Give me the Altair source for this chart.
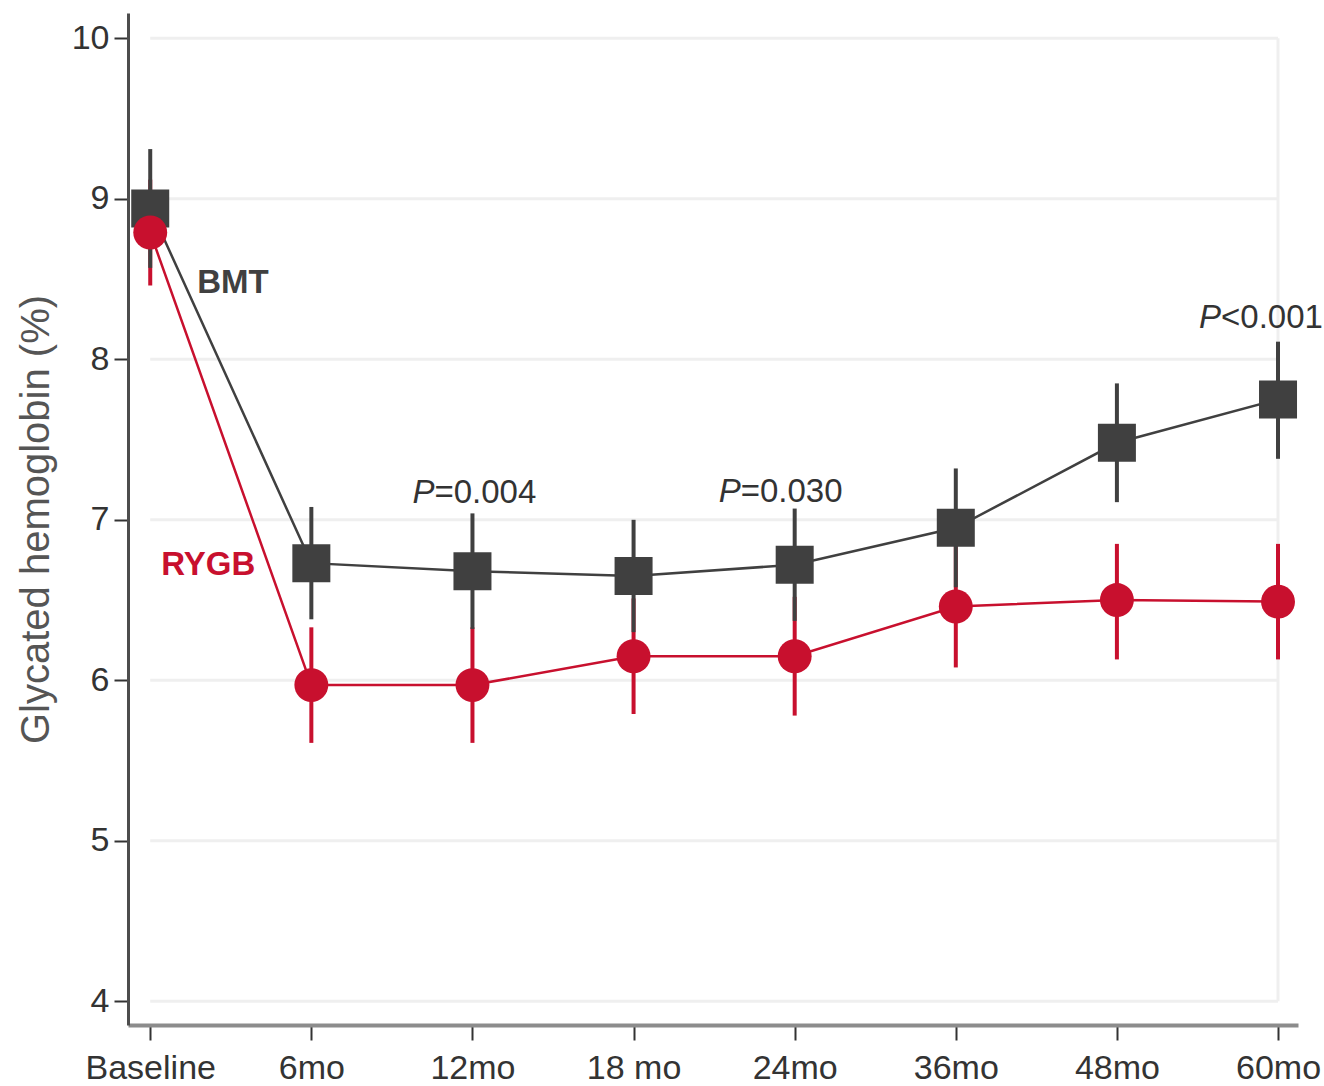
import altair as alt
import pandas as pd

# ---- data ----
timepoints = ["Baseline", "6mo", "12mo", "18 mo", "24mo", "36mo", "48mo", "60mo"]
bmt_mean = [8.94, 6.73, 6.68, 6.65, 6.72, 6.95, 7.48, 7.75]
bmt_upper = [9.31, 7.08, 7.04, 7.00, 7.07, 7.32, 7.85, 8.11]
bmt_lower = [8.57, 6.38, 6.32, 6.30, 6.37, 6.58, 7.11, 7.38]
rygb_mean = [8.79, 5.97, 5.97, 6.15, 6.15, 6.46, 6.50, 6.49]
rygb_upper = [9.12, 6.33, 6.33, 6.51, 6.52, 6.84, 6.85, 6.85]
rygb_lower = [8.46, 5.61, 5.61, 5.79, 5.78, 6.08, 6.13, 6.13]
y_ticks = [4, 5, 6, 7, 8, 9, 10]

ann_index = [2, 4, 7]
ann_y = [7.105, 7.11, 8.196]
ann_p = ["P", "P", "P"]
ann_rest = ["=0.004", "=0.030", "<0.001"]
ann_dx = [-38, -54, -57]

series_names = ["BMT", "RYGB"]
series_label_y = [8.414, 6.656]
series_label_dx = [47, 11]

GRAY = "#404040"
RED = "#c8102e"
FONT = "Liberation Sans, Arial, Helvetica, sans-serif"

n = len(timepoints)
idx = list(range(n))

df = pd.DataFrame({
    "i": idx * 2,
    "series": ["BMT"] * n + ["RYGB"] * n,
    "mean": bmt_mean + rygb_mean,
    "lo": bmt_lower + rygb_lower,
    "hi": bmt_upper + rygb_upper,
})
bmt = df[df.series == "BMT"]
rygb = df[df.series == "RYGB"]

xs = alt.Scale(domain=[-0.138, n - 1 + 0.124], nice=False, zero=False)
ys = alt.Scale(domain=[3.852, 10.158], nice=False, zero=False)

label_js = "[" + ",".join("'" + t + "'" for t in timepoints) + "][datum.value]"

xaxis = alt.Axis(values=idx, labelExpr=label_js, title=None, grid=False,
                 tickSize=15, tickWidth=2, tickColor="#333333",
                 domainColor="#8c8c8c", domainWidth=4,
                 labelFont=FONT, labelFontSize=34, labelColor="#333333",
                 labelPadding=38, labelBaseline="alphabetic",
                 labelFlush=False, labelOverlap=False)
yaxis = alt.Axis(values=y_ticks, title="Glycated hemoglobin (%)", grid=False,
                 tickSize=14, tickWidth=2, tickColor="#333333",
                 domainColor="#4d4d4d", domainWidth=3,
                 labelFont=FONT, labelFontSize=34, labelColor="#333333",
                 labelPadding=5, labelOverlap=False,
                 titleFont=FONT, titleFontSize=40, titleFontWeight="normal",
                 titleColor="#555555", titleAngle=270, titleX=-80, titleY=506,
                 titleAlign="center", titleBaseline="alphabetic")


def X(f):
    return alt.X(f, type="quantitative", scale=xs, axis=xaxis)


def Y(f):
    return alt.Y(f, type="quantitative", scale=ys, axis=yaxis)


grid_df = pd.DataFrame({"y": y_ticks, "x0": [0] * len(y_ticks), "x1": [n - 1] * len(y_ticks)})
grid = alt.Chart(grid_df).mark_rule(color="#efefef", strokeWidth=3).encode(
    x=X("x0"), x2="x1", y=Y("y"))
vline_df = pd.DataFrame({"x": [n - 1], "y0": [min(y_ticks)], "y1": [max(y_ticks)]})
vline = alt.Chart(vline_df).mark_rule(color="#efefef", strokeWidth=3).encode(
    x=X("x"), y=Y("y0"), y2="y1")

err_r = alt.Chart(rygb).mark_rule(color=RED, strokeWidth=4).encode(x=X("i"), y=Y("lo"), y2="hi")
err_b = alt.Chart(bmt).mark_rule(color=GRAY, strokeWidth=4).encode(x=X("i"), y=Y("lo"), y2="hi")
line_b = alt.Chart(bmt).mark_line(color=GRAY, strokeWidth=2.5).encode(x=X("i"), y=Y("mean"))
line_r = alt.Chart(rygb).mark_line(color=RED, strokeWidth=2.5).encode(x=X("i"), y=Y("mean"))
pts_b = alt.Chart(bmt).mark_point(shape="square", filled=True, size=1444, opacity=1,
                                   color=GRAY).encode(x=X("i"), y=Y("mean"))
pts_r = alt.Chart(rygb).mark_circle(size=1150, opacity=1, color=RED).encode(
    x=X("i"), y=Y("mean"))

layers = [grid, vline, err_r, err_b, line_b, line_r, pts_b, pts_r]

for k in range(len(ann_index)):
    adf = pd.DataFrame({"i": [ann_index[k]], "y": [ann_y[k]],
                        "p": [ann_p[k]], "rest": [ann_rest[k]]})
    layers.append(alt.Chart(adf).mark_text(
        align="right", baseline="alphabetic", dx=ann_dx[k], font=FONT,
        fontSize=33, fontStyle="italic", color="#333333").encode(
        x=X("i"), y=Y("y"), text="p:N"))
    layers.append(alt.Chart(adf).mark_text(
        align="left", baseline="alphabetic", dx=ann_dx[k], font=FONT,
        fontSize=33, color="#333333").encode(
        x=X("i"), y=Y("y"), text="rest:N"))

series_colors = [GRAY, RED]
for k in range(len(series_names)):
    sdf = pd.DataFrame({"i": [0], "y": [series_label_y[k]], "t": [series_names[k]]})
    layers.append(alt.Chart(sdf).mark_text(
        align="left", baseline="alphabetic", dx=series_label_dx[k], font=FONT,
        fontSize=33, fontWeight="bold", color=series_colors[k]).encode(
        x=X("i"), y=Y("y"), text="t:N"))

chart = alt.layer(*layers).properties(
    width=1170, height=1012,
    autosize=alt.AutoSizeParams(type="none"),
    padding={"left": 128, "top": 13, "right": 26, "bottom": 61},
    background="white",
).configure_view(stroke=None)

chart.save("out.html", embed_options={"renderer": "svg", "actions": False})
